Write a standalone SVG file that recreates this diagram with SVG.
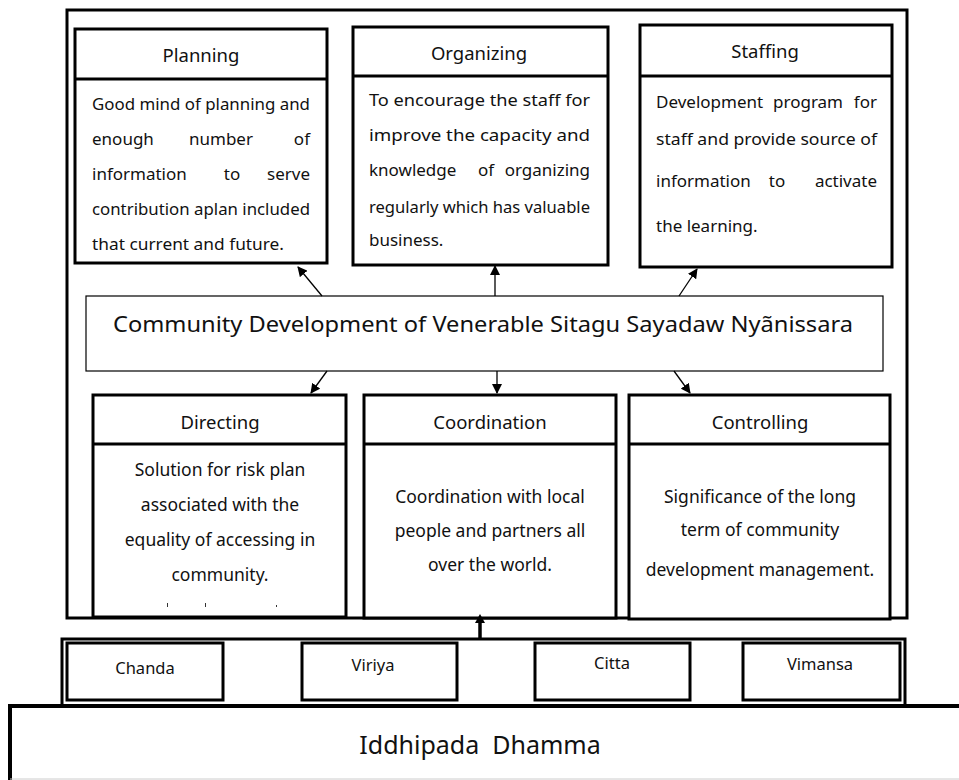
<svg xmlns="http://www.w3.org/2000/svg" width="959" height="780" viewBox="0 0 959 780">
<style>
.box{fill:#fff;stroke:#000;stroke-width:3}
.thin{fill:#fff;stroke:#000;stroke-width:1.2}
.hd{font-family:"Noto Sans","DejaVu Sans",sans-serif;font-size:18.5px;fill:#111;text-anchor:middle}
.bd{font-family:"Noto Sans","DejaVu Sans",sans-serif;font-size:17px;fill:#111}
.bm{font-family:"Noto Sans","DejaVu Sans",sans-serif;font-size:17px;fill:#111;text-anchor:middle}
.be{font-family:"Noto Sans","DejaVu Sans",sans-serif;font-size:17px;fill:#111;text-anchor:end}
.bc{font-family:"Noto Sans","DejaVu Sans",sans-serif;font-size:17.5px;fill:#111;text-anchor:middle}
.sm{font-family:"Noto Sans","DejaVu Sans",sans-serif;font-size:16.5px;fill:#111;text-anchor:middle}
.con{stroke:#000;stroke-width:1.3;fill:none;marker-end:url(#ah)}
</style>
<defs>
<marker id="ah" markerWidth="10" markerHeight="10" refX="9" refY="5" orient="auto" markerUnits="userSpaceOnUse">
<path d="M0,0 L10,5 L0,10 z" fill="#000"/>
</marker>
</defs>
<rect width="959" height="780" fill="#fff"/>
<g id="frame"><rect x="67" y="10" width="840" height="608" fill="#fff" stroke="#000" stroke-width="3"/></g>

<g id="planning">
<rect class="box" x="75" y="29" width="252" height="234"/>
<line x1="75" y1="79" x2="327" y2="79" stroke="#000" stroke-width="3"/>
<text class="hd" x="201" y="62">Planning</text>
<text class="bd" x="92" y="110" textLength="218" lengthAdjust="spacingAndGlyphs">Good mind of planning and</text>
<text class="bd" x="92" y="145">enough</text><text class="bm" x="221" y="145">number</text><text class="be" x="310" y="145">of</text>
<text class="bd" x="92" y="180">information</text><text class="bm" x="232" y="180">to</text><text class="be" x="310" y="180">serve</text>
<text class="bd" x="92" y="215" textLength="218" lengthAdjust="spacingAndGlyphs">contribution aplan included</text>
<text class="bd" x="92" y="250" textLength="192" lengthAdjust="spacingAndGlyphs">that current and future.</text>
</g>

<g id="organizing">
<rect class="box" x="353" y="27" width="255" height="238"/>
<line x1="353" y1="76" x2="608" y2="76" stroke="#000" stroke-width="3"/>
<text class="hd" x="479" y="60">Organizing</text>
<text class="bd" x="369" y="106" textLength="221" lengthAdjust="spacingAndGlyphs">To encourage the staff for</text>
<text class="bd" x="369" y="141" textLength="221" lengthAdjust="spacingAndGlyphs">improve the capacity and</text>
<text class="bd" x="369" y="176">knowledge</text><text class="bm" x="486" y="176">of</text><text class="be" x="590" y="176">organizing</text>
<text class="bd" x="369" y="213" textLength="221" lengthAdjust="spacingAndGlyphs">regularly which has valuable</text>
<text class="bd" x="369" y="246">business.</text>
</g>

<g id="staffing">
<rect class="box" x="640" y="25" width="252" height="242"/>
<line x1="640" y1="76" x2="892" y2="76" stroke="#000" stroke-width="3"/>
<text class="hd" x="765" y="58">Staffing</text>
<text class="bd" x="656" y="108">Development</text><text class="bm" x="808" y="108">program</text><text class="be" x="877" y="108">for</text>
<text class="bd" x="656" y="145" textLength="221" lengthAdjust="spacingAndGlyphs">staff and provide source of</text>
<text class="bd" x="656" y="187">information</text><text class="bm" x="777" y="187">to</text><text class="be" x="877" y="187">activate</text>
<text class="bd" x="656" y="232">the learning.</text>
</g>

<g id="center">
<rect class="thin" x="86" y="296" width="797" height="75"/>
<text x="113" y="332" textLength="740" lengthAdjust="spacingAndGlyphs" font-family="Noto Sans, DejaVu Sans, sans-serif" font-size="22" fill="#111">Community Development of Venerable Sitagu Sayadaw Nyãnissara</text>
</g>

<g id="directing">
<rect class="box" x="93" y="395" width="253" height="222"/>
<line x1="93" y1="444" x2="346" y2="444" stroke="#000" stroke-width="3"/>
<text class="hd" x="220" y="429">Directing</text>
<text class="bc" x="220" y="476">Solution for risk plan</text>
<text class="bc" x="220" y="511">associated with the</text>
<text class="bc" x="220" y="546">equality of accessing in</text>
<text class="bc" x="220" y="581">community.</text>
<rect x="167" y="603" width="1" height="4" fill="#333"/>
<rect x="205" y="603" width="1" height="4" fill="#333"/>
<rect x="276" y="605" width="1" height="2" fill="#333"/>
</g>

<g id="coordination">
<rect class="box" x="364" y="395" width="252" height="223"/>
<line x1="364" y1="444" x2="616" y2="444" stroke="#000" stroke-width="3"/>
<text class="hd" x="490" y="429">Coordination</text>
<text class="bc" x="490" y="503">Coordination with local</text>
<text class="bc" x="490" y="537">people and partners all</text>
<text class="bc" x="490" y="571">over the world.</text>
</g>

<g id="controlling">
<rect class="box" x="629" y="395" width="261" height="224"/>
<line x1="629" y1="444" x2="890" y2="444" stroke="#000" stroke-width="3"/>
<text class="hd" x="760" y="429">Controlling</text>
<text class="bc" x="760" y="503">Significance of the long</text>
<text class="bc" x="760" y="536">term of community</text>
<text class="bc" x="760" y="576">development management.</text>
</g>

<g id="connectors">
<line class="con" x1="322" y1="296" x2="298" y2="267"/>
<line class="con" x1="495" y1="296" x2="495" y2="266"/>
<line class="con" x1="679" y1="296" x2="697" y2="269"/>
<line class="con" x1="327" y1="371" x2="311" y2="393"/>
<line class="con" x1="497" y1="371" x2="497" y2="393"/>
<line class="con" x1="674" y1="371" x2="690" y2="393"/>
<line x1="480" y1="639" x2="480" y2="622" stroke="#000" stroke-width="3.5"/>
<path d="M475,623 L485,623 L480,614 z" fill="#000"/>
</g>

<g id="iddhipada-row">
<path d="M62,706 L62,639 L905,639 L905,706" fill="#fff" stroke="#000" stroke-width="3"/>
<g id="chanda"><rect class="box" x="67" y="643" width="156" height="57"/><text class="sm" x="145" y="674">Chanda</text></g>
<g id="viriya"><rect class="box" x="302" y="643" width="155" height="57"/><text class="sm" x="373" y="671">Viriya</text></g>
<g id="citta"><rect class="box" x="535" y="643" width="155" height="57"/><text class="sm" x="612" y="669">Citta</text></g>
<g id="vimansa"><rect class="box" x="743" y="643" width="157" height="57"/><text class="sm" x="820" y="670">Vimansa</text></g>
</g>

<g id="iddhipada">
<rect x="10" y="706" width="960" height="90" fill="#fff" stroke="#000" stroke-width="4"/>
<line x1="10" y1="779" x2="959" y2="779" stroke="#ccc" stroke-width="1"/>
<text x="480" y="754" text-anchor="middle" font-family="Noto Sans, DejaVu Sans, sans-serif" font-size="25" fill="#111" xml:space="preserve">Iddhipada  Dhamma</text>
</g>
</svg>
